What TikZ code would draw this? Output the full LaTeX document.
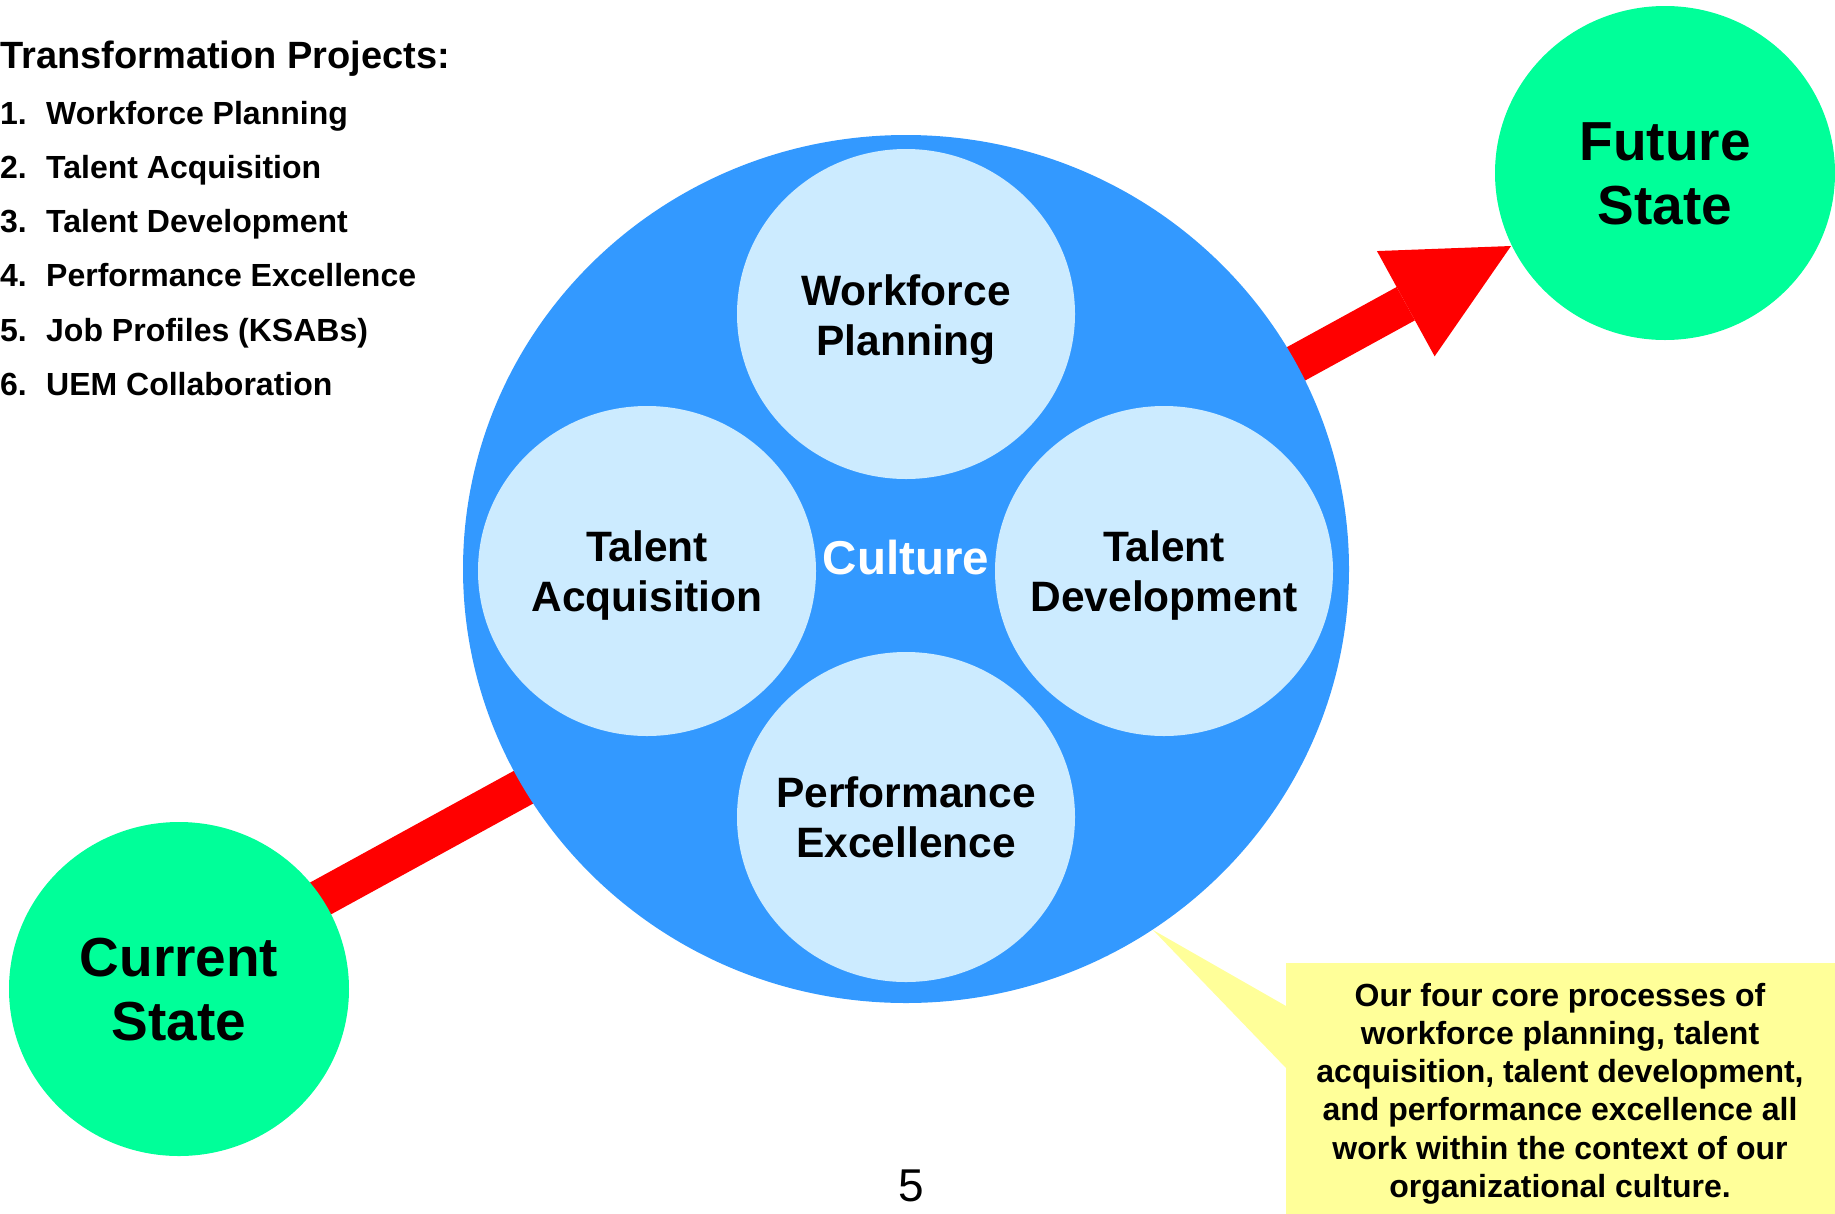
\documentclass[tikz,border=0pt]{standalone}
\usepackage{fontspec}
\setmainfont{Liberation Sans}
\usetikzlibrary{shapes.geometric,calc}
\definecolor{ringblue}{HTML}{3399FF}
\definecolor{paleblue}{HTML}{CCEBFF}
\definecolor{stategreen}{HTML}{00FF99}
\definecolor{noteyellow}{HTML}{FFFF99}
\definecolor{arrowred}{HTML}{FF0000}
\pgfdeclarelayer{background}
\pgfsetlayers{background,main}
% stacked centred lines; the box baseline is the first line's baseline
\newcommand\linestack[1]{\begin{tabular}[t]{@{}c@{}}#1\end{tabular}}

\begin{document}
\begin{tikzpicture}[x=1pt,y=-1pt,
  disc/.style={ellipse, inner sep=0pt, draw=none},
  state/.style={disc, fill=stategreen, minimum width=340pt, minimum height=334pt},
  process/.style={disc, fill=paleblue, minimum width=338pt, minimum height=330pt},
  proclabel/.style={anchor=base, inner sep=0pt, font=\bfseries\fontsize{42.5}{50}\selectfont},
  statelabel/.style={anchor=base, inner sep=0pt, font=\bfseries\fontsize{55}{64}\selectfont},
  listhead/.style={anchor=base west, inner sep=0pt, font=\bfseries\fontsize{38}{44}\selectfont},
  listitem/.style={anchor=base west, inner sep=0pt, font=\bfseries\fontsize{32}{37}\selectfont},
  notetext/.style={anchor=base, inner sep=0pt, font=\bfseries\fontsize{32}{38.3}\selectfont},
]
\useasboundingbox (0,0) rectangle (1835,1213);
\clip (0,0) rectangle (1835,1213);

% culture ring with the four core processes
\node[disc, fill=ringblue, minimum width=886pt, minimum height=868pt] (ring) at (906,569) {};
\node[process] (wp) at (906,314) {};
\node[process] (ta) at (647,571) {};
\node[process] (td) at (1164,571) {};
\node[process] (pe) at (906,817) {};

\node[proclabel] (wpt) at (906,305) {\linestack{Workforce\\Planning}};
\node[proclabel] (tat) at (647,561) {\linestack{Talent\\Acquisition}};
\node[proclabel] (tdt) at (1164,561) {\linestack{Talent\\Development}};
\node[proclabel] (pet) at (906,807) {\linestack{Performance\\Excellence}};
\node[anchor=base, inner sep=0pt, text=white, font=\bfseries\fontsize{47.5}{55}\selectfont] (cul) at (906,574) {Culture};

% current and future states
\node[state] (cs) at (179,989) {};
\node[state] (fs) at (1665,173) {};
\node[statelabel] (cst) at (179,976) {\linestack{Current\\State}};
\node[statelabel] (fst) at (1665,160) {\linestack{Future\\State}};

% red path from the current state through the ring to the future state
\coordinate (a0) at ($(cs.center)+(0,-13)$);
\coordinate (tip) at (1511,246);
\coordinate (hb) at ($(tip)!120pt!(a0)$);
\begin{pgfonlayer}{background}
  \draw[arrowred, line width=38pt] (a0) -- (hb);
  \fill[arrowred] (tip) -- ($(hb)!60pt!90:(tip)$) -- ($(hb)!60pt!-90:(tip)$) -- cycle;
\end{pgfonlayer}

% callout
\node[fill=noteyellow, inner sep=0pt, minimum width=560pt, minimum height=260pt, anchor=north west] (note) at (1286,963) {};
\coordinate (ptip) at (1153,930);
\fill[noteyellow] (ptip) -- ($(note.north west)+(0,43)$) -- ($(note.north west)+(0,105)$) -- cycle;
\node[notetext] (nt) at (1560,1006) {\linestack{Our four core processes of\\workforce planning, talent\\acquisition, talent development,\\and performance excellence all\\work within the context of our\\organizational culture.}};

% list of projects
\node[listhead] (lh) at (0,68) {Transformation Projects:};
\foreach \n/\t [count=\i] in {1/Workforce Planning,2/Talent Acquisition,3/Talent Development,4/Performance Excellence,5/Job Profiles (KSABs),6/UEM Collaboration}{
  \node[listitem] (ln\i) at (0,{124+54.3*(\i-1)}) {\n.};
  \node[listitem] (li\i) at (46,{124+54.3*(\i-1)}) {\t};
}

% page number
\node[anchor=base, inner sep=0pt, font=\fontsize{46}{55}\selectfont] (pg) at (911,1201) {5};
\end{tikzpicture}
\end{document}
